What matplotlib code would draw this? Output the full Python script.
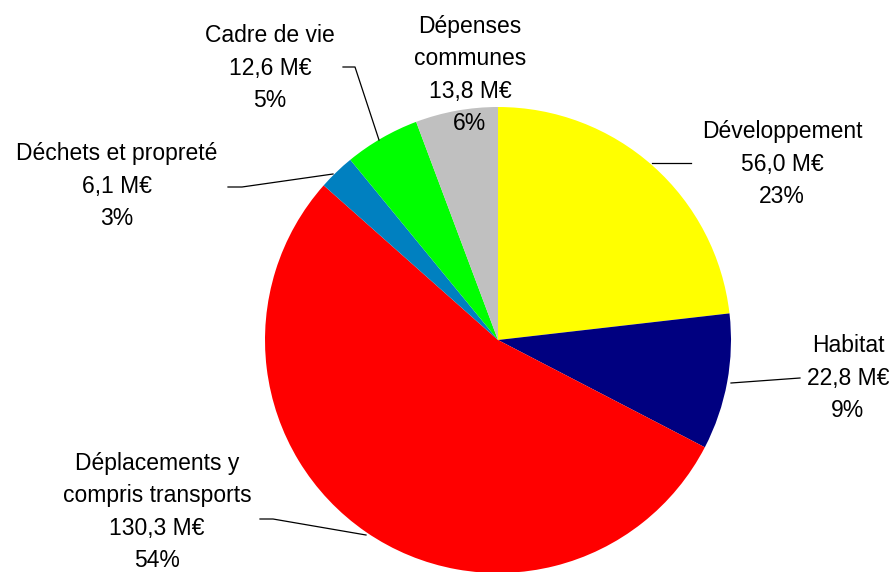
import matplotlib
matplotlib.use("Agg")
import matplotlib.pyplot as plt

# budget par poste, en M€ (sens horaire depuis midi)
labels = ["Développement", "Habitat", "Déplacements y\ncompris transports",
          "Déchets et propreté", "Cadre de vie", "Dépenses\ncommunes"]
values = [56.0, 22.8, 130.3, 6.1, 12.6, 13.8]
colors = ["#FFFF00", "#000080", "#FF0000", "#0080C0", "#00FF00", "#C0C0C0"]

total = sum(values)

plt.rcParams["font.family"] = ["Liberation Sans", "DejaVu Sans"]

W, H = 892, 572
cx, cy, R = 498, 340, 233   # pie centre / radius in pixels


def px(x, y):
    # pixel (from top-left) -> data coords, pie radius = 1
    return (x - cx) / R, (cy - y) / R


fig = plt.figure(figsize=(W / 100, H / 100), dpi=100)
ax = fig.add_axes([0, 0, 1, 1])

ax.pie(values, colors=colors, startangle=90, counterclock=False,
       radius=1, center=(0, 0), wedgeprops=dict(linewidth=0))

ax.set_aspect("auto")
x0, y0 = px(0, H)
x1, y1 = px(W, 0)
ax.set_xlim(x0, x1)
ax.set_ylim(y0, y1)
ax.axis("off")

# label block centres (pixels)
label_pos = [(782, 164), (848, 378), (157, 512), (117, 186), (270, 68), (470, 75)]

for name, v, (lx, ly) in zip(labels, values, label_pos):
    txt = name + "\n" + f"{v:.1f}".replace(".", ",") + " M€\n" + f"{round(v / total * 100)}%"
    ax.text(*px(lx, ly), txt, ha="center", va="center", fontsize=16.5,
            linespacing=1.52, multialignment="center")

# leader lines
leaders = [
    [(652, 163), (691, 163)],
    [(731, 383), (800, 378)],
    [(366, 535), (273, 519), (260, 519)],
    [(333, 174), (242, 187), (228, 187)],
    [(379, 140), (355, 67), (343, 67)],
]
for pts in leaders:
    xs, ys = zip(*[px(x, y) for x, y in pts])
    ax.plot(xs, ys, color="black", lw=0.9)

fig.savefig("out.png", dpi=100)
